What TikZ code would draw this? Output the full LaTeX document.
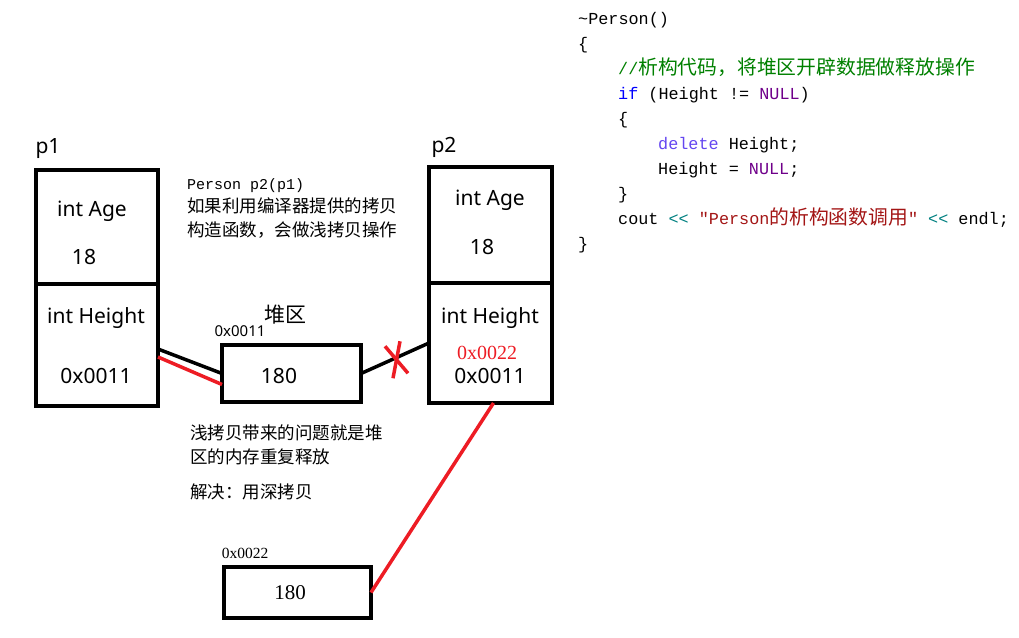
\documentclass[tikz,border=0pt]{standalone}
\usepackage{fontspec}
\setmainfont{Liberation Serif}
\setsansfont{Noto Sans}
\setmonofont{Liberation Mono}
\newfontfamily\cjk{Noto Sans CJK SC}
\usetikzlibrary{positioning}

\definecolor{cmtgreen}{RGB}{0,128,0}
\definecolor{kwblue}{RGB}{0,0,255}
\definecolor{delviolet}{RGB}{100,70,240}
\definecolor{macpurple}{RGB}{111,0,138}
\definecolor{opteal}{RGB}{0,128,128}
\definecolor{strred}{RGB}{163,21,21}
\definecolor{penred}{RGB}{237,28,36}

\newcommand\zh[1]{{\cjk #1}}
\newcommand\zhcode[1]{{\cjk\fontsize{19.8}{25}\selectfont #1}}

\begin{document}
\begin{tikzpicture}[x=1pt, y=-1pt,
        field/.style={draw, line width=3.5pt, outer sep=0pt, inner sep=0pt, minimum width=122pt},
        heapbox/.style={draw, line width=3.5pt, outer sep=0pt, inner sep=0pt},
        boxtext/.style={font=\sffamily\fontsize{21}{24}\selectfont, inner sep=0pt},
        addr/.style={font=\sffamily\fontsize{15}{16}\selectfont, inner sep=0pt},
        note/.style={align=left, anchor=north west, inner sep=0pt},
        link/.style={line width=3.5pt},
        redpen/.style={line width=3.5pt, penred}]

    \useasboundingbox (0,0) rectangle (1019,637);

    % objeto p1
    \node[field, minimum height=114pt] (p1age) at (97,227) {};
    \node[field, minimum height=122pt, below=0pt of p1age] (p1hgt) {};
    \node[boxtext] (p1name) at (48,149) {p1};
    \node[boxtext] (p1agetxt) at (92,211) {int Age};
    \node[boxtext] (p1ageval) at (84,257) {18};
    \node[boxtext] (p1hgttxt) at (96,318) {int Height};
    \node[boxtext] (p1hgtval) at (96,376) {0x0011};

    % objeto p2
    \node[field, minimum width=123pt, minimum height=116pt] (p2age) at (490.5,225) {};
    \node[field, minimum width=123pt, minimum height=120pt, below=0pt of p2age] (p2hgt) {};
    \node[boxtext] (p2name) at (444,147) {p2};
    \node[boxtext] (p2agetxt) at (490,200) {int Age};
    \node[boxtext] (p2ageval) at (482,247) {18};
    \node[boxtext] (p2hgttxt) at (490,318) {int Height};
    \node[inner sep=0pt, text=penred, font=\fontsize{20}{22}\selectfont] (p2newval) at (487,353) {0x0022};
    \node[boxtext] (p2hgtval) at (490,376) {0x0011};

    % heap
    \node[heapbox, minimum width=139pt, minimum height=57pt] (heap) at (291.5,373.5) {};
    \node[boxtext] (heapval) at (279,376) {180};
    \node[inner sep=0pt, font=\cjk\fontsize{21}{24}\selectfont] (heapname) at (285,315) {堆区};
    \node[addr] (heapaddr) at (240,331) {0x0011};

    % deep copy
    \node[heapbox, minimum width=147pt, minimum height=51pt] (deep) at (297.5,592.5) {};
    \node[inner sep=0pt, font=\fontsize{21}{24}\selectfont] (deepval) at (290,593) {180};
    \node[inner sep=0pt, font=\fontsize{15.5}{18}\selectfont] (deepaddr) at (245,553) {0x0022};

    % punteros
    \draw[link] ([yshift=-4pt]p1hgt.east) -- (heap.west);
    \draw[redpen] ([yshift=-12pt]p1hgt.east) -- ([yshift=-11pt]heap.west);
    \draw[link] (heap.east) -- coordinate[pos=0.5] (cut) (p2hgt.west);
    \draw[redpen] ([shift={(-10,-12)}]cut) -- ([shift={(13,15)}]cut);
    \draw[redpen] ([shift={(5,-17)}]cut) -- ([shift={(-2,20)}]cut);
    \draw[redpen] ([xshift=3pt]p2hgt.south) -- (deep.east);

    % notas
    \node[note, font=\fontsize{17.5}{23.5}\selectfont] (copynote) at (187,178) {%
        {\ttfamily\fontsize{15}{23.5}\selectfont Person p2(p1)}\\
        \zh{如果利用编译器提供的拷贝}\\
        \zh{构造函数，会做浅拷贝操作}};
    \node[note, font=\fontsize{17.5}{23.5}\selectfont] (issuenote) at (190,425) {%
        \zh{浅拷贝带来的问题就是堆}\\
        \zh{区的内存重复释放}\\[12pt]
        \zh{解决：用深拷贝}};

    % destructor
    \node[note, font=\ttfamily\fontsize{16.8}{25}\selectfont] (code) at (578,12) {%
        \textasciitilde Person()\\
        \{\\
        \hspace*{40pt}\textcolor{cmtgreen}{//\zhcode{析构代码，将堆区开辟数据做释放操作}}\\
        \hspace*{40pt}\textcolor{kwblue}{if} (Height != \textcolor{macpurple}{NULL})\\
        \hspace*{40pt}\{\\
        \hspace*{80pt}\textcolor{delviolet}{delete} Height;\\
        \hspace*{80pt}Height = \textcolor{macpurple}{NULL};\\
        \hspace*{40pt}\}\\
        \hspace*{40pt}cout \textcolor{opteal}{<{}<} \textcolor{strred}{"Person\zhcode{的析构函数调用}"} \textcolor{opteal}{<{}<} endl;\\
        \}};

\end{tikzpicture}
\end{document}
